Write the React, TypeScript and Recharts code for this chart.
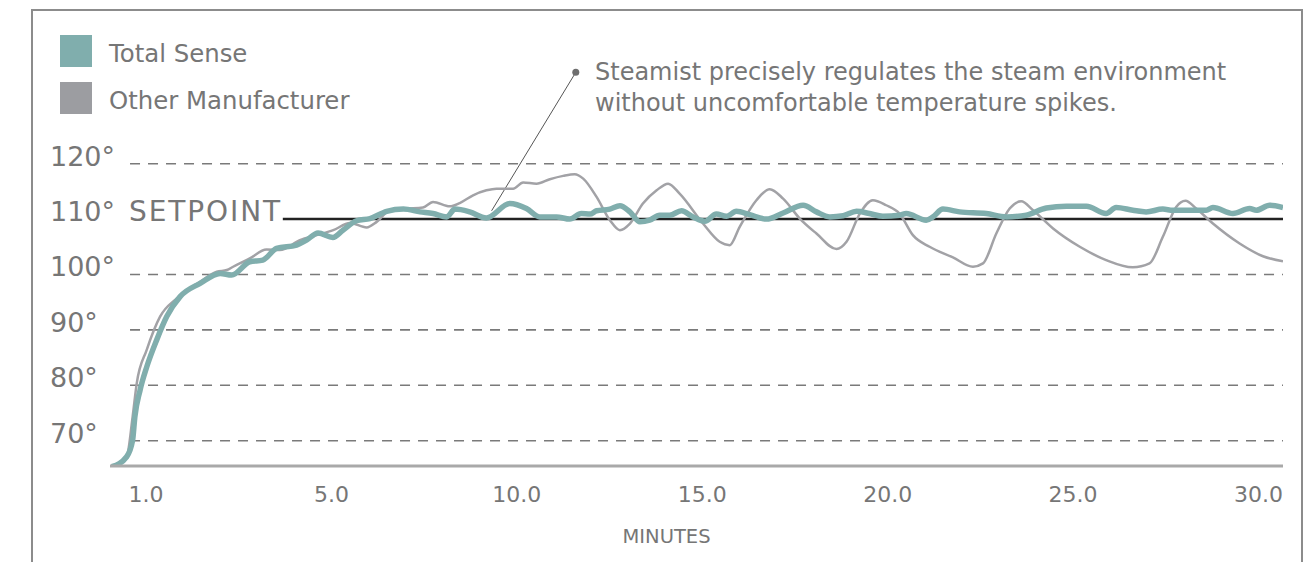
import { LineChart, Line, XAxis, YAxis, ReferenceLine, ReferenceDot, Legend } from 'recharts';

// minutes (chart position) and temperature
const totalSenseMinutes = [
  -0.92, -0.52, -0.36, -0.3, -0.16, 0.02, 0.29, 0.56, 0.92, 1.46, 2.0, 2.31, 2.8, 3.15, 3.52, 4.06, 4.33, 4.64,
  5.04, 5.31, 5.68, 6.04, 6.49, 6.94, 7.39, 7.74, 8.11, 8.33, 8.73, 9.18, 9.81, 10.26, 10.62, 11.07, 11.43, 11.74,
  11.97, 12.15, 12.51, 12.78, 13.05, 13.32, 13.58, 13.85, 14.12, 14.44, 14.75, 15.07, 15.38, 15.65, 15.92, 16.28,
  16.73, 17.18, 17.72, 18.08, 18.44, 18.8, 19.16, 19.51, 19.87, 20.32, 20.5, 21.04, 21.22, 21.49, 21.94, 22.66,
  23.2, 23.74, 24.28, 24.82, 25.36, 25.89, 26.16, 26.61, 26.97, 27.42, 27.69, 28.59, 28.77, 29.31, 29.76, 29.94,
  30.3, 30.66,
];
const totalSenseTemps = [
  65.3, 67.1, 70.1, 74.3, 79.1, 83.3, 88.2, 92.4, 96.0, 98.4, 100.2, 99.9, 102.3, 102.6, 104.7, 105.3, 106.2, 107.5,
  106.7, 108.0, 109.7, 110.1, 111.4, 111.8, 111.3, 111.0, 110.4, 111.8, 111.3, 110.2, 112.8, 111.9, 110.4, 110.4,
  110.0, 111.0, 110.9, 111.5, 111.8, 112.4, 111.3, 109.5, 109.8, 110.7, 110.7, 111.5, 110.4, 109.6, 110.9, 110.5,
  111.4, 110.8, 110.0, 111.1, 112.5, 111.3, 110.4, 110.6, 111.4, 111.0, 110.5, 110.7, 111.0, 109.8, 110.4, 111.8,
  111.3, 111.0, 110.4, 110.7, 112.0, 112.3, 112.3, 111.0, 112.1, 111.6, 111.3, 111.8, 111.6, 111.6, 112.1, 111.0,
  111.9, 111.6, 112.5, 112.1,
];

const otherMinutes = [
  -0.92, -0.52, -0.36, -0.25, 0.02, 0.38, 0.83, 1.46, 1.91, 2.18, 2.35, 2.8, 3.25, 3.61, 4.15, 4.6, 5.05, 5.5, 5.95,
  6.22, 6.58, 7.03, 7.47, 7.74, 8.19, 8.46, 8.82, 9.18, 9.45, 9.9, 10.17, 10.53, 10.89, 11.25, 11.56, 11.79, 12.15,
  12.51, 12.78, 13.05, 13.4, 13.77, 14.08, 14.39, 15.02, 15.47, 15.74, 16.01, 16.46, 16.82, 17.18, 17.63, 18.08,
  18.62, 18.89, 19.25, 19.6, 19.96, 20.32, 20.68, 21.13, 21.76, 22.3, 22.57, 22.93, 23.29, 23.6, 23.92, 24.46, 25.18,
  25.89, 26.61, 27.06, 27.42, 27.78, 28.03, 28.32, 28.77, 29.49, 30.12, 30.66,
];
const otherTemps = [
  65.3, 67.1, 74.3, 80.3, 86.4, 92.4, 95.7, 98.7, 100.5, 100.8, 101.4, 102.9, 104.5, 104.4, 106.2, 107.1, 108.0,
  109.3, 108.5, 109.5, 111.6, 111.9, 112.1, 113.1, 112.3, 112.9, 114.3, 115.2, 115.5, 115.5, 116.6, 116.4, 117.2,
  117.8, 118.1, 117.3, 114.0, 109.8, 108.0, 109.2, 112.8, 115.2, 116.4, 114.6, 109.2, 105.9, 105.3, 108.6, 113.4,
  115.4, 113.7, 110.1, 107.4, 104.6, 105.9, 111.0, 113.4, 112.5, 111.0, 107.1, 105.0, 103.1, 101.4, 102.0, 107.4,
  111.9, 113.2, 111.6, 108.3, 105.0, 102.6, 101.3, 102.0, 106.8, 112.2, 113.3, 111.9, 109.2, 105.6, 103.3, 102.4,
];

const xTicks = [0, 5, 10, 15, 20, 25, 30];
const xTickLabels = ['1.0', '5.0', '10.0', '15.0', '20.0', '25.0', '30.0'];
const yTicks = [70, 80, 90, 100, 110, 120];
const setpoint = 110;
const gridTemps = [70, 80, 90, 100, 120];
const legendOrder = ['Total Sense', 'Other Manufacturer'];
const annotationLines = [
  'Steamist precisely regulates the steam environment',
  'without uncomfortable temperature spikes.',
];
// callout: label point and the point on the curve it refers to
const calloutFrom = { m: 11.59, t: 136.5 };
const calloutTo = { m: 9.32, t: 111.5 };

const totalSenseData = totalSenseMinutes.map((m, i) => ({ m, t: totalSenseTemps[i] }));
const otherData = otherMinutes.map((m, i) => ({ m, t: otherTemps[i] }));

const FONT = '"DejaVu Sans", sans-serif';
const TEXT = '#767676';
const TEAL = '#80aead';
const GRAY = '#a2a2a6';

const YTick = ({ y, payload }: any) => (
  <g>
    <text x={50} y={y + 2} fontSize={27} fill={TEXT} fontFamily={FONT}>
      {payload.value}°
    </text>
    {payload.value === setpoint && (
      <text x={129} y={y + 2} fontSize={28} fill={TEXT} fontFamily={FONT} letterSpacing={1.9}>
        SETPOINT
      </text>
    )}
  </g>
);

const LegendBox = ({ payload }: any) => {
  const items = [...(payload || [])].sort((a: any, b: any) => legendOrder.indexOf(a.value) - legendOrder.indexOf(b.value));
  return (
    <div style={{ fontFamily: FONT }}>
      {items.map((it: any) => (
        <div key={it.value} style={{ display: 'flex', alignItems: 'center', height: 32, marginBottom: 15 }}>
          <div style={{ width: 32, height: 32, background: it.value === 'Other Manufacturer' ? '#9c9da1' : TEAL }} />
          <span style={{ marginLeft: 17, fontSize: 24.4, color: TEXT, paddingTop: 4, whiteSpace: 'nowrap' }}>{it.value}</span>
        </div>
      ))}
    </div>
  );
};

export default function App() {
  return (
    <div style={{ position: 'absolute', left: 0, top: 0, width: 1314, height: 562, background: '#fff', fontFamily: FONT }}>
      {/* frame */}
      <div
        style={{
          position: 'absolute',
          left: 31,
          top: 9,
          width: 1268,
          height: 560,
          border: '2px solid #8c8c8c',
          borderBottom: 'none',
        }}
      />
      <div style={{ position: 'absolute', left: 0, top: 0 }}>
        <LineChart width={1314} height={562} data={totalSenseData} margin={{ top: 136, right: 31, bottom: 66, left: 50 }}>
          <XAxis
            type="number"
            dataKey="m"
            domain={[-0.97, 30.66]}
            allowDataOverflow
            ticks={xTicks}
            tickFormatter={(v: number) => xTickLabels[xTicks.indexOf(v)]}
            axisLine={{ stroke: '#a9a9a9', strokeWidth: 3 }}
            tickLine={false}
            tickMargin={14}
            tick={{ fontSize: 22, fill: TEXT, fontFamily: FONT }}
            height={30}
            label={{ value: 'MINUTES', position: 'bottom', offset: 33, dx: -30, fontSize: 19.5, fill: TEXT, fontFamily: FONT }}
          />
          <YAxis
            type="number"
            domain={[65.43, 125]}
            allowDataOverflow
            ticks={yTicks}
            width={60}
            axisLine={false}
            tickLine={false}
            tick={<YTick />}
          />
          {gridTemps.map((g) => (
            <ReferenceLine
              key={g}
              segment={[{ x: -0.43, y: g }, { x: 30.66, y: g }]}
              stroke="#7a7a7a"
              strokeWidth={1.6}
              strokeDasharray="10 8"
              ifOverflow="visible"
            />
          ))}
          <ReferenceLine
            segment={[{ x: 3.69, y: setpoint }, { x: 30.66, y: setpoint }]}
            stroke="#222222"
            strokeWidth={2.5}
            ifOverflow="visible"
          />
          <ReferenceLine
            segment={[{ x: calloutFrom.m, y: calloutFrom.t }, { x: calloutTo.m, y: calloutTo.t }]}
            stroke="#555555"
            strokeWidth={1}
            ifOverflow="visible"
          />
          <ReferenceDot x={calloutFrom.m} y={calloutFrom.t} r={3.5} fill="#6e6e6e" stroke="none" ifOverflow="visible" />
          <Line
            data={otherData}
            dataKey="t"
            name="Other Manufacturer"
            type="monotone"
            stroke={GRAY}
            strokeWidth={2.5}
            dot={false}
            activeDot={false}
            isAnimationActive={false}
          />
          <Line
            data={totalSenseData}
            dataKey="t"
            name="Total Sense"
            type="monotone"
            stroke={TEAL}
            strokeWidth={5.5}
            dot={false}
            activeDot={false}
            isAnimationActive={false}
          />
          <Legend
            layout="vertical"
            align="center"
            verticalAlign="middle"
            content={<LegendBox />}
            wrapperStyle={{ left: 60, top: 35, width: 320, height: 100 }}
          />
        </LineChart>
      </div>
      <svg width={1314} height={562} style={{ position: 'absolute', left: 0, top: 0, pointerEvents: 'none' }}>
        {annotationLines.map((s, i) => (
          <text key={i} x={595} y={80 + i * 31} fontSize={24} fill={TEXT} fontFamily={FONT}>
            {s}
          </text>
        ))}
      </svg>
    </div>
  );
}
